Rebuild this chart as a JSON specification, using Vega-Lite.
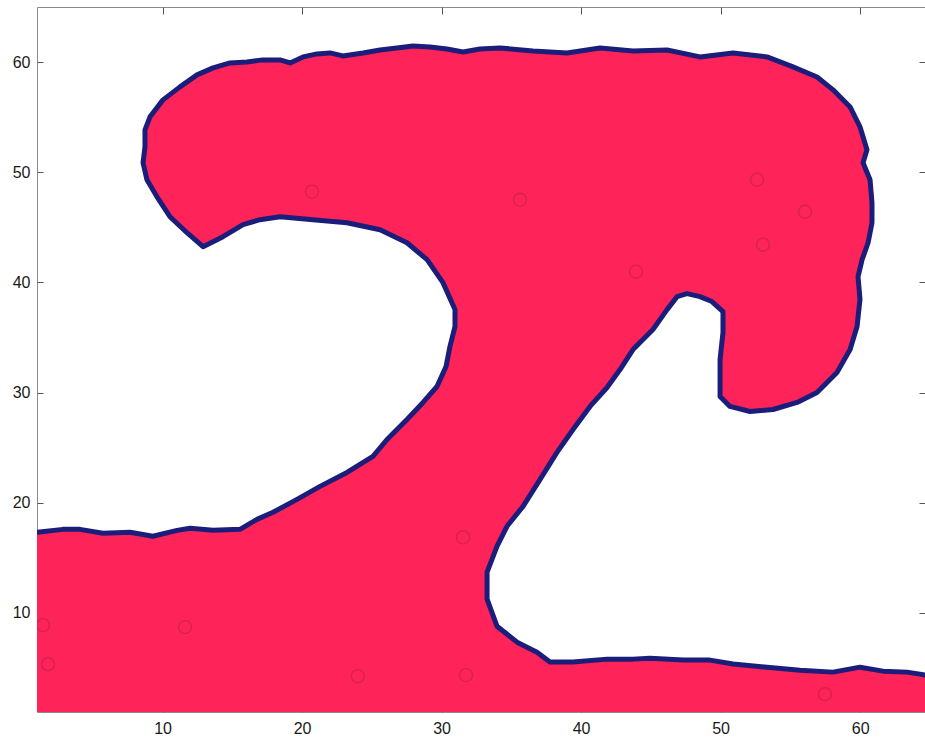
{
  "$schema": "https://vega.github.io/schema/vega-lite/v6.json",
  "width": 888,
  "height": 705,
  "autosize": {"type": "none"},
  "padding": {"left": 37, "top": 7, "right": 0, "bottom": 36},
  "background": "white",
  "config": {
    "view": {"stroke": "#8a8a8a", "strokeWidth": 1},
    "axis": {
      "labelFont": "Liberation Sans",
      "labelFontSize": 16,
      "labelColor": "#1a1a1a",
      "tickColor": "#555555",
      "domain": false,
      "grid": false,
      "title": null
    }
  },
  "datasets": {
    "shape": [
      {"i":0,"x":1,"y":1},{"i":1,"x":64.65,"y":1},{"i":2,"x":64.65,"y":4.35},
      {"i":3,"x":64.29,"y":4.44},{"i":4,"x":63.36,"y":4.62},{"i":5,"x":61.64,"y":4.71},
      {"i":6,"x":59.99,"y":5.07},{"i":7,"x":58.06,"y":4.62},{"i":8,"x":55.69,"y":4.80},
      {"i":9,"x":53.33,"y":5.07},{"i":10,"x":50.89,"y":5.35},{"i":11,"x":49.24,"y":5.71},
      {"i":12,"x":47.31,"y":5.71},{"i":13,"x":44.94,"y":5.89},{"i":14,"x":43.72,"y":5.80},
      {"i":15,"x":41.86,"y":5.80},{"i":16,"x":39.42,"y":5.53},{"i":17,"x":37.77,"y":5.53},
      {"i":18,"x":36.84,"y":6.43},{"i":19,"x":35.41,"y":7.34},{"i":20,"x":33.97,"y":8.79},
      {"i":21,"x":33.26,"y":11.24},{"i":22,"x":33.26,"y":13.69},{"i":23,"x":33.97,"y":16.04},
      {"i":24,"x":34.69,"y":17.86},{"i":25,"x":35.84,"y":19.67},{"i":26,"x":37.06,"y":22.12},
      {"i":27,"x":38.27,"y":24.57},{"i":28,"x":39.42,"y":26.65},{"i":29,"x":40.64,"y":28.74},
      {"i":30,"x":41.86,"y":30.46},{"i":31,"x":42.79,"y":32.09},{"i":32,"x":43.72,"y":33.90},
      {"i":33,"x":45.15,"y":35.72},{"i":34,"x":46.16,"y":37.53},{"i":35,"x":46.88,"y":38.71},
      {"i":36,"x":47.59,"y":38.98},{"i":37,"x":48.52,"y":38.71},{"i":38,"x":49.38,"y":38.26},
      {"i":39,"x":50.17,"y":37.35},{"i":40,"x":50.17,"y":35.44},{"i":41,"x":49.96,"y":33.0},
      {"i":42,"x":49.96,"y":30.55},{"i":43,"x":49.96,"y":29.64},{"i":44,"x":50.67,"y":28.74},
      {"i":45,"x":52.11,"y":28.28},{"i":46,"x":53.76,"y":28.46},{"i":47,"x":55.48,"y":29.10},
      {"i":48,"x":56.91,"y":30.01},{"i":49,"x":58.34,"y":31.82},{"i":50,"x":59.28,"y":33.90},
      {"i":51,"x":59.78,"y":35.99},{"i":52,"x":59.99,"y":38.44},{"i":53,"x":59.85,"y":40.52},
      {"i":54,"x":60.14,"y":42.06},{"i":55,"x":60.57,"y":43.60},{"i":56,"x":60.85,"y":45.42},
      {"i":57,"x":60.85,"y":47.23},{"i":58,"x":60.71,"y":49.32},{"i":59,"x":60.21,"y":50.86},
      {"i":60,"x":60.49,"y":52.04},{"i":61,"x":59.99,"y":54.12},{"i":62,"x":59.28,"y":55.93},
      {"i":63,"x":58.06,"y":57.48},{"i":64,"x":56.91,"y":58.65},{"i":65,"x":55.19,"y":59.56},
      {"i":66,"x":53.33,"y":60.47},{"i":67,"x":50.89,"y":60.83},{"i":68,"x":48.52,"y":60.47},
      {"i":69,"x":46.16,"y":61.10},{"i":70,"x":43.72,"y":61.01},{"i":71,"x":41.36,"y":61.28},
      {"i":72,"x":38.99,"y":60.83},{"i":73,"x":36.55,"y":61.01},{"i":74,"x":34.19,"y":61.28},
      {"i":75,"x":32.75,"y":61.19},{"i":76,"x":31.54,"y":60.92},{"i":77,"x":30.39,"y":61.19},
      {"i":78,"x":29.17,"y":61.37},{"i":79,"x":27.95,"y":61.46},{"i":80,"x":26.80,"y":61.28},
      {"i":81,"x":25.59,"y":61.10},{"i":82,"x":24.37,"y":60.83},{"i":83,"x":22.93,"y":60.56},
      {"i":84,"x":22.0,"y":60.83},{"i":85,"x":21.07,"y":60.74},{"i":86,"x":20.07,"y":60.47},
      {"i":87,"x":19.14,"y":59.92},{"i":88,"x":18.42,"y":60.20},{"i":89,"x":17.20,"y":60.20},
      {"i":90,"x":16.05,"y":60.01},{"i":91,"x":14.83,"y":59.92},{"i":92,"x":13.62,"y":59.47},
      {"i":93,"x":12.47,"y":58.84},{"i":94,"x":11.25,"y":57.75},{"i":95,"x":10.03,"y":56.57},
      {"i":96,"x":9.10,"y":55.03},{"i":97,"x":8.74,"y":53.85},{"i":98,"x":8.74,"y":52.31},
      {"i":99,"x":8.60,"y":50.86},{"i":100,"x":8.88,"y":49.32},{"i":101,"x":9.60,"y":47.77},
      {"i":102,"x":10.53,"y":45.96},{"i":103,"x":11.75,"y":44.51},{"i":104,"x":12.90,"y":43.24},
      {"i":105,"x":14.33,"y":44.15},{"i":106,"x":15.77,"y":45.24},{"i":107,"x":16.98,"y":45.69},
      {"i":108,"x":18.42,"y":45.96},{"i":109,"x":20.78,"y":45.69},{"i":110,"x":23.22,"y":45.42},
      {"i":111,"x":25.59,"y":44.78},{"i":112,"x":27.52,"y":43.60},{"i":113,"x":28.96,"y":42.06},
      {"i":114,"x":30.10,"y":39.98},{"i":115,"x":30.96,"y":37.53},{"i":116,"x":30.96,"y":35.99},
      {"i":117,"x":30.60,"y":34.18},{"i":118,"x":30.32,"y":32.36},{"i":119,"x":29.67,"y":30.55},
      {"i":120,"x":28.67,"y":29.10},{"i":121,"x":27.52,"y":27.56},{"i":122,"x":26.09,"y":25.74},
      {"i":123,"x":25.08,"y":24.20},{"i":124,"x":23.22,"y":22.75},{"i":125,"x":21.29,"y":21.48},
      {"i":126,"x":19.64,"y":20.30},{"i":127,"x":17.92,"y":19.13},{"i":128,"x":16.77,"y":18.49},
      {"i":129,"x":15.55,"y":17.58},{"i":130,"x":13.62,"y":17.49},{"i":131,"x":11.97,"y":17.68},
      {"i":132,"x":11.04,"y":17.49},{"i":133,"x":9.31,"y":16.95},{"i":134,"x":7.67,"y":17.31},
      {"i":135,"x":5.73,"y":17.22},{"i":136,"x":4.08,"y":17.58},{"i":137,"x":2.86,"y":17.58},
      {"i":138,"x":1,"y":17.31}
    ],
    "blobs": [
      {"x":11.61,"y":8.70},{"x":35.62,"y":47.50},{"x":43.94,"y":40.97},{"x":53.04,"y":43.42},
      {"x":56.05,"y":46.41},{"x":52.61,"y":49.32},{"x":20.71,"y":48.23},{"x":31.75,"y":4.35},
      {"x":1.43,"y":8.88},{"x":1.79,"y":5.35},{"x":57.48,"y":2.62},{"x":31.54,"y":16.86},
      {"x":24.0,"y":4.26}
    ]
  },
  "resolve": {"axis": {"x": "independent", "y": "independent"}},
  "layer": [
    {
      "data": {"name": "shape"},
      "mark": {"type": "line", "fill": "#fe2358", "strokeWidth": 0, "clip": true},
      "encoding": {
        "x": {"field": "x", "type": "quantitative", "scale": {"domain": [1, 64.65], "nice": false, "zero": false},
              "axis": {"orient": "bottom", "values": [10,20,30,40,50,60], "tickSize": -6, "labelPadding": 14}},
        "y": {"field": "y", "type": "quantitative", "scale": {"domain": [1, 65], "nice": false, "zero": false},
              "axis": {"orient": "left", "values": [10,20,30,40,50,60], "tickSize": -6, "labelPadding": 13}},
        "order": {"field": "i", "type": "quantitative"}
      }
    },
    {
      "data": {"name": "shape"},
      "transform": [{"filter": "datum.i >= 2"}],
      "mark": {"type": "line", "stroke": "#1b1d7a", "strokeWidth": 5, "strokeJoin": "round", "strokeCap": "round", "clip": true},
      "encoding": {
        "x": {"field": "x", "type": "quantitative",
              "axis": {"orient": "top", "values": [10,20,30,40,50,60], "tickSize": -7, "labels": false}},
        "y": {"field": "y", "type": "quantitative",
              "axis": {"orient": "right", "values": [10,20,30,40,50,60], "tickSize": -6, "labels": false}},
        "order": {"field": "i", "type": "quantitative"}
      }
    },
    {
      "data": {"name": "blobs"},
      "mark": {"type": "point", "shape": "circle", "filled": false, "stroke": "#b52250", "strokeWidth": 1.3, "opacity": 0.55, "size": 170, "clip": true},
      "encoding": {
        "x": {"field": "x", "type": "quantitative", "axis": null},
        "y": {"field": "y", "type": "quantitative", "axis": null}
      }
    }
  ]
}
